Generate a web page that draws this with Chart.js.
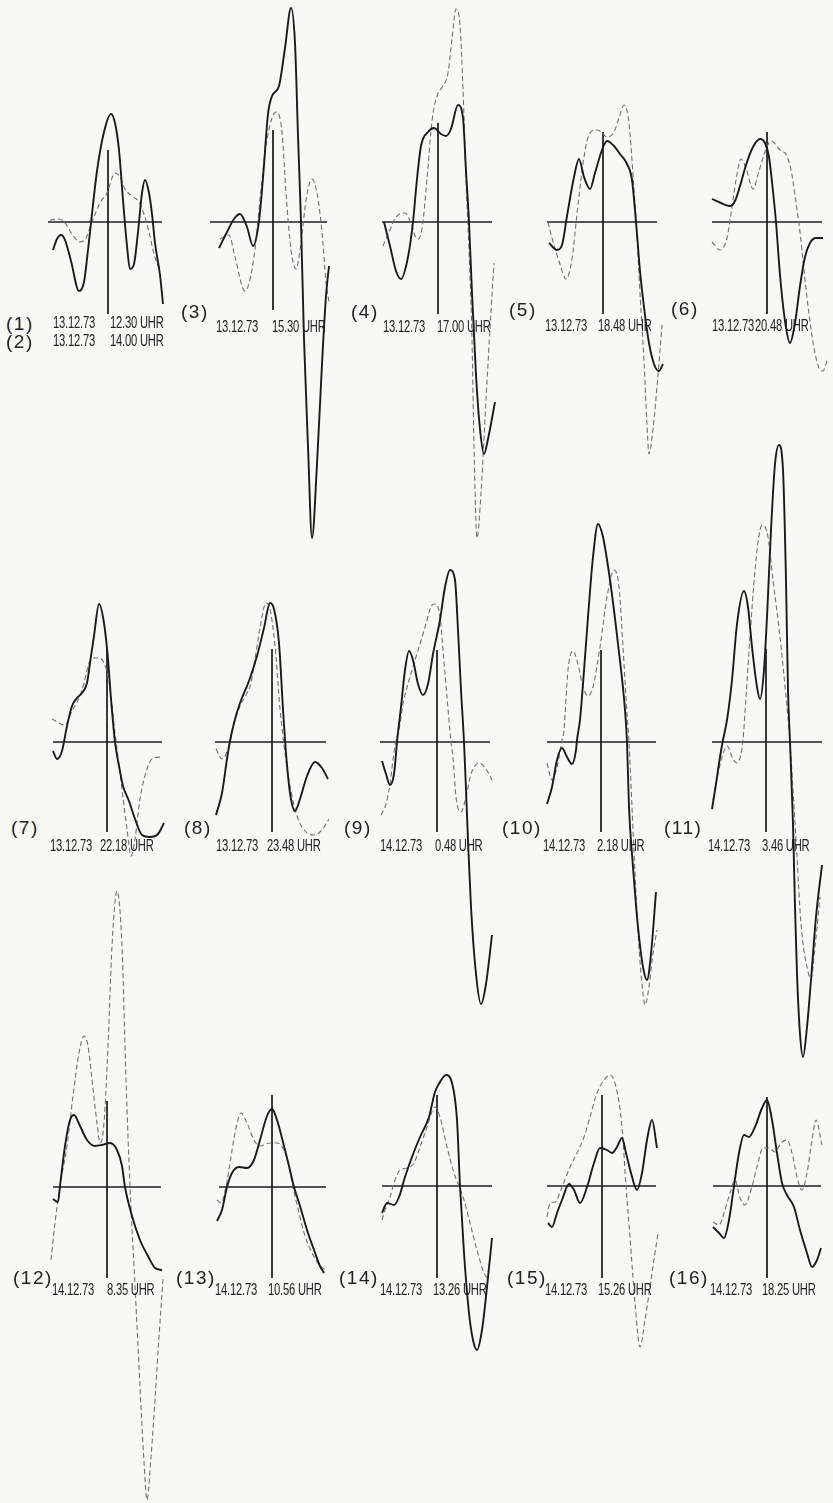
<!DOCTYPE html>
<html>
<head>
<meta charset="utf-8">
<script src="https://cdn.jsdelivr.net/npm/chart.js@4.4.1/dist/chart.umd.min.js"></script>
<style>
  html, body { margin: 0; padding: 0; background: #f8f8f6; }
  #page { position: relative; width: 833px; height: 1503px; overflow: hidden; }
  canvas { position: absolute; }
  .num, .txt { position: absolute; color: #222; white-space: pre; line-height: 1; transform-origin: 0 50%; }
  .num { font-family: "Liberation Sans", Arial, sans-serif; font-size: 19px; letter-spacing: 1.5px; transform: translateY(-50%); }
  .txt { font-family: "Liberation Sans", Arial, sans-serif; font-size: 16px; letter-spacing: -0.3px; transform: translateY(-50%) scaleX(0.7); }
</style>
</head>
<body>
<div id="page"></div>
<script>
// Kurven je Bild: [x, y] relativ zum Achsenkreuz (y nach oben positiv)
const p1Solid = [[-55,-28],[-51,-17],[-47,-13],[-43,-18],[-37,-39],[-29,-69],[-24,-60],[-20,-28],[-17,-1],[-11,51],[-4,90],[3,108],[7,99],[11,72],[15,22],[19,-24],[22,-47],[26,-42],[30,-10],[34,29],[37,42],[41,29],[44,8],[47,-21],[52,-53],[55,-82]];
const p1Dashed = [[-58,2],[-49,3],[-43,-1],[-36,-12],[-28,-20],[-22,-16],[-16,0],[-8,19],[-1,29],[7,49],[12,45],[17,33],[24,26],[31,20],[36,8],[41,-10],[46,-32],[52,-49]];

const p3Solid = [[-54,-26],[-46,-10],[-39,3],[-33,8],[-26,-5],[-20,-24],[-14,1],[-10,44],[-5,108],[-1,126],[6,136],[12,174],[18,214],[22,179],[25,86],[28,0],[31,-117],[35,-224],[39,-316],[44,-242],[49,-142],[53,-74],[56,-44]];
const p3Dashed = [[-53,-17],[-44,-13],[-38,-35],[-28,-69],[-19,-35],[-13,22],[-7,76],[3,110],[9,90],[13,29],[18,-28],[23,-47],[28,-21],[33,22],[39,43],[44,29],[49,-10],[53,-60],[56,-80]];

const p4Solid = [[-54,0],[-48,-24],[-42,-49],[-37,-57],[-30,-35],[-25,0],[-21,43],[-17,76],[-10,90],[-4,94],[3,88],[8,86],[13,93],[20,117],[25,104],[28,51],[31,0],[34,-71],[38,-153],[42,-207],[46,-232],[50,-217],[57,-180]];
const p4Dashed = [[-55,-24],[-49,-10],[-42,5],[-33,9],[-27,-1],[-21,-17],[-16,-7],[-11,43],[-6,101],[-1,126],[5,136],[10,149],[14,183],[18,213],[22,197],[25,133],[28,43],[31,-28],[34,-117],[36,-224],[39,-316],[43,-271],[48,-178],[53,-89],[56,-41]];

const p5Solid = [[-54,-21],[-46,-28],[-41,-23],[-36,6],[-29,45],[-24,63],[-19,45],[-13,33],[-8,49],[-1,72],[4,81],[11,76],[17,68],[24,58],[29,42],[33,0],[37,-49],[41,-85],[46,-121],[51,-142],[56,-149],[60,-142]];
const p5Dashed = [[-55,0],[-51,-16],[-44,-39],[-37,-57],[-31,-37],[-26,8],[-21,51],[-16,81],[-9,92],[-3,91],[4,85],[11,90],[16,104],[21,117],[26,99],[30,47],[34,-14],[37,-71],[41,-139],[44,-203],[46,-232],[50,-207],[55,-153],[59,-103]];

const p6Solid = [[-55,23],[-46,19],[-37,16],[-32,21],[-27,36],[-21,57],[-14,75],[-7,83],[-2,79],[2,65],[5,40],[9,0],[13,-53],[18,-99],[23,-121],[28,-101],[33,-64],[38,-35],[43,-21],[49,-16],[56,-16]];
const p6Dashed = [[-55,-20],[-47,-28],[-40,-16],[-36,8],[-31,42],[-26,63],[-21,54],[-14,33],[-8,51],[-2,70],[4,81],[13,72],[20,66],[25,47],[29,19],[33,-10],[37,-49],[42,-92],[47,-126],[52,-146],[56,-149],[60,-139]];

const p7Solid = [[-54,-9],[-50,-17],[-45,-9],[-40,16],[-35,36],[-30,44],[-25,49],[-20,59],[-17,79],[-13,106],[-8,138],[-3,119],[1,83],[4,43],[8,0],[12,-24],[16,-44],[22,-59],[28,-77],[35,-93],[43,-95],[51,-92],[57,-81]];
const p7Dashed = [[-55,23],[-42,17],[-35,31],[-28,44],[-23,59],[-18,79],[-13,84],[-8,84],[-3,79],[1,66],[4,46],[8,9],[13,-31],[17,-64],[20,-87],[24,-114],[28,-97],[33,-57],[40,-27],[46,-16],[56,-15]];

const p8Solid = [[-56,-73],[-50,-51],[-45,-17],[-42,1],[-38,19],[-32,39],[-23,61],[-15,86],[-8,114],[-2,139],[2,133],[7,99],[11,33],[14,-11],[18,-51],[23,-69],[28,-57],[35,-34],[43,-20],[50,-26],[56,-37]];
const p8Dashed = [[-56,-7],[-50,-17],[-43,-4],[-38,18],[-32,36],[-26,47],[-21,59],[-17,83],[-12,114],[-6,139],[-2,133],[3,96],[8,33],[13,-11],[18,-44],[25,-74],[33,-89],[42,-93],[50,-88],[57,-77]];

const p9Solid = [[-55,-19],[-51,-32],[-47,-43],[-43,-32],[-41,-12],[-40,0],[-36,35],[-32,72],[-28,91],[-24,82],[-19,58],[-14,47],[-9,58],[-4,88],[3,122],[8,155],[13,172],[18,162],[21,112],[24,52],[27,0],[29,-48],[31,-98],[34,-165],[39,-232],[44,-262],[49,-242],[55,-193]];
const p9Dashed = [[-56,-73],[-51,-62],[-47,-42],[-44,-18],[-41,2],[-38,12],[-34,38],[-27,65],[-21,85],[-11,118],[-5,137],[-1,138],[3,125],[6,92],[10,45],[14,0],[16,-15],[19,-55],[24,-70],[29,-55],[34,-32],[42,-21],[49,-27],[55,-38]];

const p10Solid = [[-54,-62],[-49,-45],[-44,-18],[-39,-6],[-34,-15],[-29,-22],[-25,-8],[-24,2],[-21,22],[-18,58],[-13,125],[-8,185],[-3,218],[2,205],[9,162],[17,98],[24,32],[26,0],[28,-65],[32,-125],[37,-185],[42,-225],[46,-238],[50,-212],[55,-150]];
const p10Dashed = [[-54,-21],[-49,-38],[-44,-25],[-39,2],[-37,12],[-33,72],[-28,91],[-23,78],[-18,55],[-13,46],[-8,55],[-1,95],[6,145],[13,172],[18,155],[22,95],[26,28],[28,0],[31,-65],[34,-132],[38,-205],[42,-252],[44,-263],[48,-245],[52,-212],[56,-188]];

const p11Solid = [[-54,-67],[-50,-42],[-46,-15],[-43,2],[-39,22],[-34,62],[-29,118],[-22,151],[-18,135],[-14,95],[-9,55],[-6,43],[-2,72],[1,125],[5,212],[9,278],[13,297],[17,272],[20,162],[22,52],[24,0],[27,-82],[29,-165],[31,-232],[34,-292],[37,-315],[41,-285],[45,-238],[50,-175],[56,-123]];
const p11Dashed = [[-53,-58],[-48,-32],[-43,-12],[-39,-4],[-33,-17],[-29,-21],[-25,-12],[-23,2],[-20,45],[-16,105],[-11,172],[-6,212],[-3,217],[2,205],[7,162],[14,105],[20,45],[24,0],[27,-48],[31,-115],[35,-182],[41,-225],[45,-237],[49,-205],[54,-155]];

const p12Solid = [[-54,-12],[-49,-15],[-47,1],[-42,41],[-37,67],[-33,72],[-27,61],[-20,47],[-12,41],[-5,42],[3,44],[10,37],[15,21],[18,0],[25,-29],[33,-53],[42,-71],[48,-81],[55,-83]];
const p12Dashed = [[-56,-73],[-52,-36],[-47,1],[-40,41],[-34,91],[-28,134],[-23,151],[-19,141],[-15,107],[-10,64],[-7,44],[-3,64],[1,141],[5,241],[10,296],[15,241],[19,107],[23,1],[27,-79],[31,-159],[34,-220],[37,-275],[40,-313],[44,-270],[48,-213],[52,-150],[56,-92]];

const p13Solid = [[-55,-34],[-50,-23],[-45,0],[-40,14],[-33,20],[-25,19],[-18,27],[-12,47],[-5,71],[0,78],[5,67],[12,41],[17,21],[22,0],[28,-19],[35,-43],[42,-63],[48,-79],[52,-86]];
const p13Dashed = [[-55,-13],[-51,-16],[-46,0],[-42,24],[-37,54],[-31,74],[-25,64],[-18,47],[-12,41],[-2,44],[5,44],[12,37],[17,21],[21,0],[27,-26],[33,-49],[40,-66],[48,-79],[54,-83]];

const p14Solid = [[-55,-27],[-50,-17],[-43,-19],[-38,-11],[-32,9],[-25,29],[-17,49],[-8,69],[-2,94],[3,104],[9,111],[15,103],[20,66],[23,0],[27,-67],[32,-127],[36,-154],[40,-164],[45,-144],[50,-101],[55,-52]];
const p14Dashed = [[-55,-34],[-52,-24],[-47,-11],[-42,6],[-37,16],[-30,18],[-23,23],[-17,39],[-10,59],[-2,79],[3,69],[10,39],[17,13],[22,0],[27,-14],[33,-37],[40,-64],[47,-87],[52,-94]];

const p15Solid = [[-54,-37],[-50,-41],[-45,-27],[-40,-14],[-33,2],[-28,-4],[-22,-17],[-15,-1],[-8,23],[-2,38],[5,36],[10,33],[15,39],[20,48],[24,33],[29,13],[35,-4],[40,13],[45,46],[50,66],[55,38]];
const p15Dashed = [[-55,-31],[-52,-17],[-47,-16],[-40,-1],[-32,19],[-25,33],[-18,49],[-12,69],[-5,93],[2,106],[8,111],[14,99],[20,59],[24,0],[28,-51],[33,-117],[38,-161],[43,-134],[50,-87],[56,-47]];

const p16Solid = [[-54,-41],[-48,-47],[-43,-52],[-38,-34],[-33,0],[-28,33],[-23,51],[-18,49],[-12,59],[-5,78],[0,86],[5,66],[10,33],[15,3],[20,-9],[27,-21],[33,-44],[40,-67],[45,-81],[50,-74],[54,-62]];
const p16Dashed = [[-54,-36],[-48,-39],[-43,-27],[-37,-7],[-32,6],[-27,-12],[-22,-19],[-16,-4],[-10,19],[-4,38],[2,38],[8,34],[14,43],[20,46],[25,33],[30,9],[35,-4],[40,13],[45,46],[49,66],[55,41]];

// Achsenkreuz: [links, rechts, oben, unten]
const axisExtents = [
  [-60,54,72,-92], [-63,54,92,-88], [-56,54,99,-92], [-56,54,90,-92], [-55,55,90,-92],
  [-54,55,93,-90], [-57,54,93,-90], [-57,53,92,-90], [-54,55,92,-90], [-54,56,93,-90],
  [-54,54,86,-91], [-53,54,92,-91], [-55,55,91,-92], [-55,54,91,-92], [-54,54,89,-92]
];

// Beschriftung
const labelNumbers = ['(1)','(2)','(3)','(4)','(5)','(6)','(7)','(8)','(9)','(10)','(11)','(12)','(13)','(14)','(15)','(16)'];
const labelDates = ['13.12.73','13.12.73','13.12.73','13.12.73','13.12.73','13.12.73','13.12.73','13.12.73',
                    '14.12.73','14.12.73','14.12.73','14.12.73','14.12.73','14.12.73','14.12.73','14.12.73'];
const labelTimes = ['12.30 UHR','14.00 UHR','15.30 UHR','17.00 UHR','18.48 UHR','20.48 UHR','22.18 UHR','23.48 UHR',
                    '0.48 UHR','2.18 UHR','3.46 UHR','8.35 UHR','10.56 UHR','13.26 UHR','15.26 UHR','18.25 UHR'];

// Layout (Pixel)
const panelOrigins = [
  [108,222], [273,222], [438,222], [603,222], [767,222],
  [107,742], [272,742], [437,742], [601,742], [766,742],
  [107,1187], [272,1187], [437,1186], [602,1186], [767,1186]
];
// [Nummer x, Nummer y, Datum x, Uhrzeit x, Text y]
const labelLayout = [
  [6,323,53,110,323], [6,341,53,110,341], [181,311,216,272,327], [351,311,383,437,327],
  [509,309,545,598,326], [671,308,712,755,326],
  [11,827,50,100,846], [184,827,216,267,846], [344,827,380,435,846], [502,827,543,597,846], [664,827,708,762,846],
  [13,1277,52,107,1290], [176,1277,215,268,1290], [339,1277,380,433,1290], [507,1277,545,598,1290], [669,1277,710,762,1290]
];

const panels = [
  [p1Solid, p1Dashed], [p3Solid, p3Dashed], [p4Solid, p4Dashed], [p5Solid, p5Dashed], [p6Solid, p6Dashed],
  [p7Solid, p7Dashed], [p8Solid, p8Dashed], [p9Solid, p9Dashed], [p10Solid, p10Dashed], [p11Solid, p11Dashed],
  [p12Solid, p12Dashed], [p13Solid, p13Dashed], [p14Solid, p14Dashed], [p15Solid, p15Dashed], [p16Solid, p16Dashed]
];

const page = document.getElementById('page');
const toPoints = arr => arr.map(p => ({ x: p[0], y: p[1] }));

panels.forEach((series, i) => {
  const [solid, dashed] = series;
  const [hl, hr, vt, vb] = axisExtents[i];
  const [ox, oy] = panelOrigins[i];
  const ys = solid.concat(dashed).map(p => p[1]).concat([vt, vb]);
  const xmin = -66, xmax = 66;
  const ymax = Math.max(...ys) + 6, ymin = Math.min(...ys) - 6;

  const canvas = document.createElement('canvas');
  canvas.width = xmax - xmin;
  canvas.height = ymax - ymin;
  canvas.style.left = (ox + xmin) + 'px';
  canvas.style.top = (oy - ymax) + 'px';
  page.appendChild(canvas);

  const line = (data, color, width, dash, smooth) => ({
    data: toPoints(data), showLine: true, pointRadius: 0, borderColor: color, borderWidth: width,
    borderDash: dash, cubicInterpolationMode: smooth ? 'monotone' : 'default', tension: 0, fill: false, clip: false
  });

  new Chart(canvas.getContext('2d'), {
    type: 'scatter',
    data: {
      datasets: [
        line(solid, '#1a1a1a', 1.9, [], true),
        line(dashed, '#707070', 1.1, [5, 3], true),
        line([[hl, 0], [hr, 0]], '#1e1e1e', 1.3, [], false),
        line([[0, vt], [0, vb]], '#1e1e1e', 1, [], false)
      ]
    },
    options: {
      responsive: false,
      animation: false,
      events: [],
      layout: { padding: 0 },
      plugins: { legend: { display: false }, tooltip: { enabled: false } },
      scales: {
        x: { type: 'linear', min: xmin, max: xmax, display: false },
        y: { type: 'linear', min: ymin, max: ymax, display: false }
      }
    }
  });
});

labelNumbers.forEach((n, i) => {
  const [nx, ny, dx, tx, ty] = labelLayout[i];
  const add = (cls, text, x, y) => {
    const el = document.createElement('div');
    el.className = cls;
    el.textContent = text;
    el.style.left = x + 'px';
    el.style.top = y + 'px';
    page.appendChild(el);
  };
  add('num', n, nx, ny);
  add('txt', labelDates[i], dx, ty);
  add('txt', labelTimes[i], tx, ty);
});
</script>
</body>
</html>
